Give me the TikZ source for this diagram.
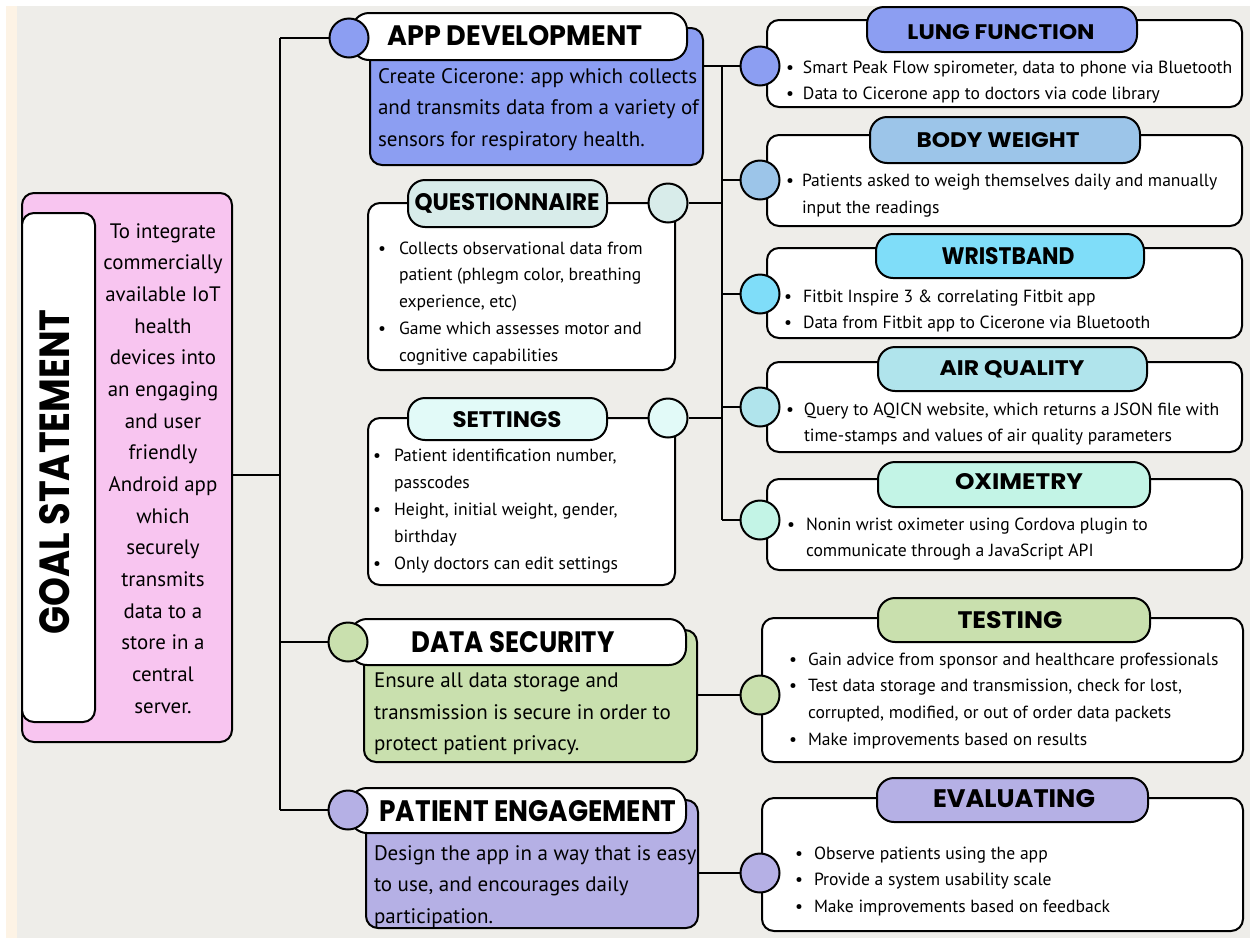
\documentclass[tikz,border=0pt]{standalone}
\usepackage{fontspec}
\usepackage{graphicx}
\setmainfont{PT Sans}
\newfontfamily\hfont{Poppins}
\definecolor{bgc}{HTML}{EEEDE9}
\definecolor{peach}{HTML}{FDF3E5}
\definecolor{cpink}{HTML}{F8C5F0}
\definecolor{cblue}{HTML}{8C9EF2}
\definecolor{cbw}{HTML}{9CC5E9}
\definecolor{cwrist}{HTML}{7FDDF9}
\definecolor{cair}{HTML}{B0E4EC}
\definecolor{cox}{HTML}{C3F4E6}
\definecolor{cques}{HTML}{D8ECEA}
\definecolor{cset}{HTML}{E2FAF8}
\definecolor{cgreen}{HTML}{C9E0AE}
\definecolor{cpurple}{HTML}{B5B0E5}
\newlength\bw
\newcommand\bu{\makebox[\bw][l]{\textbullet}}
\newcommand\ind{\hspace*{\bw}}
\newcommand\ttlt[3]{\resizebox{#1pt}{#2pt}{\hfont\bfseries #3}}
\newcommand\rbox[6]{\node[#6, minimum width={(#4)-(#2)}, minimum height={(#5)-(#3)}] (#1) at ({((#2)+(#4))/2},{((#3)+(#5))/2}) {};}
\begin{document}
\begin{tikzpicture}[x=1pt,y=-1pt,line width=2pt,
  box/.style={draw=black, rounded corners=12pt, inner sep=0pt, line width=2pt},
  pill/.style={draw=black, rounded corners=17pt, inner sep=0pt, line width=2pt},
  dot/.style={circle, draw=black, minimum size=39pt, inner sep=0pt, line width=2pt},
  conn/.style={draw=black, line width=2pt},
  ttl/.style={inner sep=0pt},
  txt/.style={anchor=north west, inner sep=0pt, align=left, font=\fontsize{17.6}{26.8}\selectfont},
  bodytxt/.style={anchor=north west, inner sep=0pt, align=left, font=\fontsize{21}{31.5}\selectfont}]
\useasboundingbox (0,0) rectangle (1250,938);
\fill[white] (0,0) rectangle (1250,938);
\fill[peach] (6,6) rectangle (17,938);
\fill[bgc] (17,6) rectangle (1250,938);

% junction coordinates
\coordinate (gj) at (280,475);
\coordinate (rj) at (722,66);

% ---------- Goal statement ----------
\rbox{goal}{22}{193}{232}{742}{box, fill=cpink}
\rbox{goalw}{22}{213}{95}{722}{box, fill=white}
\node[ttl, rotate=90] (goalt) at (55,472) {\ttlt{325}{30}{GOAL STATEMENT}};
\node[anchor=north, inner sep=0pt, align=center, font=\fontsize{20.9}{31.67}\selectfont] (goalx) at (163,222.2)
 {To integrate\\commercially\\available IoT\\health\\devices into\\an engaging\\and user\\friendly\\Android app\\which\\securely\\transmits\\data to a\\store in a\\central\\server.};

% ---------- Left groups: bodies, pills, circles ----------
\rbox{appb}{370}{28}{703}{165}{box, fill=cblue}
\rbox{appp}{352}{13}{687}{60}{pill, fill=white}
\node[dot, fill=cblue] (appc) at (349,38) {};

\rbox{qb}{368}{203}{675}{370}{box, fill=white}
\rbox{qp}{408}{180}{607}{227}{pill, fill=cques}
\node[dot, fill=cques] (qc) at (668,203) {};

\rbox{sb}{368}{418}{675}{585}{box, fill=white}
\rbox{sp}{408}{398}{607}{440}{pill, fill=cset}
\node[dot, fill=cset] (sc) at (668,418) {};

\rbox{dsb}{364}{630}{697}{762}{box, fill=cgreen}
\rbox{dsp}{350}{619}{686}{665}{pill, fill=white}
\node[dot, fill=cgreen] (dsc) at (348,642) {};

\rbox{peb}{366}{800}{698}{928}{box, fill=cpurple}
\rbox{pep}{350}{788}{686}{833}{pill, fill=white}
\node[dot, fill=cpurple] (pec) at (348,810) {};

% ---------- Right groups ----------
\rbox{lb}{767}{20}{1242}{107}{box, fill=white}
\rbox{lp}{867}{7}{1137}{52}{pill, fill=cblue}
\node[dot, fill=cblue] (lc) at (760,66) {};

\rbox{bwb}{767}{135}{1242}{226}{box, fill=white}
\rbox{bwp}{870}{117}{1140}{163}{pill, fill=cbw}
\node[dot, fill=cbw] (bwc) at (760,180) {};

\rbox{wb}{767}{248}{1242}{338}{box, fill=white}
\rbox{wp}{876}{234}{1144}{278}{pill, fill=cwrist}
\node[dot, fill=cwrist] (wc) at (760,294) {};

\rbox{ab}{767}{362}{1242}{452}{box, fill=white}
\rbox{ap}{878}{347}{1147}{391}{pill, fill=cair}
\node[dot, fill=cair] (ac) at (760,407) {};

\rbox{ob}{767}{479}{1242}{570}{box, fill=white}
\rbox{op}{878}{462}{1150}{507}{pill, fill=cox}
\node[dot, fill=cox] (oc) at (760,520) {};

\rbox{tb}{762}{618}{1243}{762}{box, fill=white}
\rbox{tp}{878}{598}{1150}{642}{pill, fill=cgreen}
\node[dot, fill=cgreen] (tc) at (760,695) {};

\rbox{eb}{762}{798}{1243}{931}{box, fill=white}
\rbox{ep}{877}{778}{1148}{822}{pill, fill=cpurple}
\node[dot, fill=cpurple] (ec) at (760,873) {};

% ---------- Connectors ----------
\draw[conn] (goal.east |- gj) -- (gj);
\draw[conn] (appc.center -| gj) -- (pec.center -| gj);
\draw[conn] (appc) -- (appc -| gj);
\draw[conn] (dsc) -- (dsc -| gj);
\draw[conn] (pec) -- (pec -| gj);
\draw[conn] (lc.center -| rj) -- (oc.center -| rj);
\draw[conn] (appb.east |- lc) -- (lc);
\draw[conn] (bwc) -- (bwc -| rj);
\draw[conn] (wc) -- (wc -| rj);
\draw[conn] (ac) -- (ac -| rj);
\draw[conn] (oc) -- (oc -| rj);
\draw[conn] (qc) -- (qc -| rj);
\draw[conn] (sc) -- (sc -| rj);
\draw[conn] (dsb.east |- tc) -- (tc);
\draw[conn] (peb.east |- ec) -- (ec);

% ---------- Titles ----------
\node[ttl] (appt) at (515,36) {\ttlt{255}{20}{APP DEVELOPMENT}};
\node[ttl] (qt) at (507,203) {\ttlt{185}{17}{QUESTIONNAIRE}};
\node[ttl] (st) at (507,420) {\ttlt{109}{16}{SETTINGS}};
\node[ttl] (dst) at (513,642) {\ttlt{203}{21}{DATA SECURITY}};
\node[ttl] (pet) at (528,811) {\ttlt{297}{21}{PATIENT ENGAGEMENT}};
\node[ttl] (lt) at (1001,32) {\ttlt{187}{15}{LUNG FUNCTION}};
\node[ttl] (bwt) at (998,140) {\ttlt{163}{15}{BODY WEIGHT}};
\node[ttl] (wt) at (1008,256) {\ttlt{133}{17}{WRISTBAND}};
\node[ttl] (at) at (1012,369) {\ttlt{145}{15}{AIR QUALITY}};
\node[ttl] (ot) at (1019,482) {\ttlt{128}{16}{OXIMETRY}};
\node[ttl] (tt) at (1010,620) {\ttlt{105}{17}{TESTING}};
\node[ttl] (et) at (1014,799) {\ttlt{162}{18}{EVALUATING}};

% ---------- Texts ----------
\node[bodytxt] (appx) at (377,67.2) {Create Cicerone: app which collects\\and transmits data from a variety of\\sensors for respiratory health.};
\node[bodytxt] (dsx) at (373,672.2) {Ensure all data storage and\\transmission is secure in order to\\protect patient privacy.};
\node[bodytxt] (pex) at (373,844.2) {Design the app in a way that is easy\\to use, and encourages daily\\participation.};

\global\bw=21pt\relax
\node[txt] (qx) at (377,240.5) {\bu Collects observational data from\\\ind patient (phlegm color, breathing\\\ind experience, etc)\\\bu Game which assesses motor and\\\ind cognitive capabilities};
\node[txt] (sx) at (372,448.5) {\bu Patient identification number,\\\ind passcodes\\\bu Height, initial weight, gender,\\\ind birthday\\\bu Only doctors can edit settings};

\global\bw=17pt\relax
\node[txt] (lx) at (785,59.5) {\bu Smart Peak Flow spirometer, data to phone via Bluetooth\\\bu Data to Cicerone app to doctors via code library};
\global\bw=16pt\relax
\node[txt] (bwx) at (785,173.5) {\bu Patients asked to weigh themselves daily and manually\\\ind input the readings};
\global\bw=19pt\relax
\node[txt] (wx) at (783,288.5) {\bu Fitbit Inspire 3 \& correlating Fitbit app\\\bu Data from Fitbit app to Cicerone via Bluetooth};
\global\bw=18pt\relax
\node[txt] (ax) at (785,401.5) {\bu Query to AQICN website, which returns a JSON file with\\\ind time-stamps and values of air quality parameters};
\global\bw=19pt\relax
\node[txt] (ox) at (786,516.5) {\bu Nonin wrist oximeter using Cordova plugin to\\\ind communicate through a JavaScript API};
\node[txt] (tx) at (788,651.5) {\bu Gain advice from sponsor and healthcare professionals\\\bu Test data storage and transmission, check for lost,\\\ind corrupted, modified, or out of order data packets\\\bu Make improvements based on results};
\node[txt] (ex) at (794,845.5) {\bu Observe patients using the app\\\bu Provide a system usability scale\\\bu Make improvements based on feedback};
\end{tikzpicture}
\end{document}
